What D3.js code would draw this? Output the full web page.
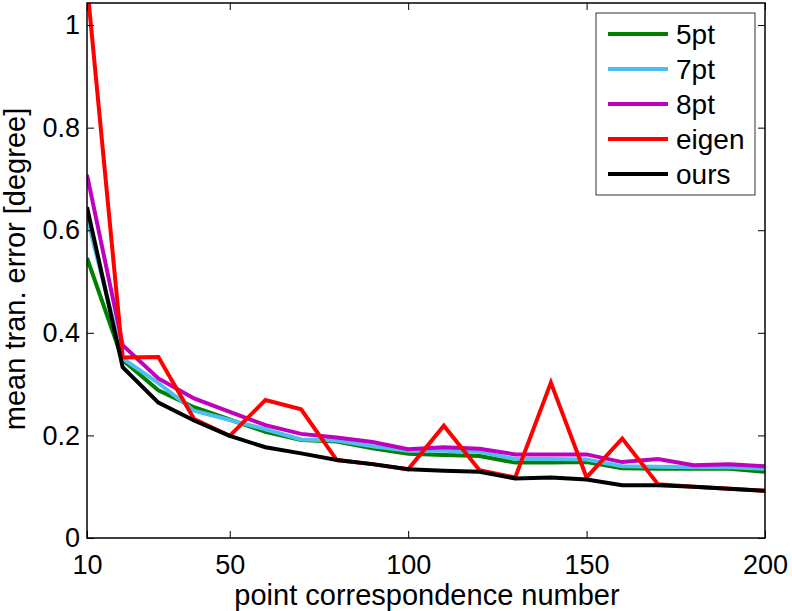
<!DOCTYPE html>
<html>
<head>
<meta charset="utf-8">
<script src="https://cdn.jsdelivr.net/npm/d3@7"></script>
<style>
  body { margin: 0; background: #fff; }
  text { font-family: "Liberation Sans", Arial, sans-serif; fill: #000; }
</style>
</head>
<body>
<svg id="chart" width="792" height="611"></svg>
<script>
// data
var pointCounts = [10, 20, 30, 40, 50, 60, 70, 80, 90, 100, 110, 120, 130, 140, 150, 160, 170, 180, 190, 200];
var err5pt  = [0.546, 0.347, 0.288, 0.255, 0.231, 0.207, 0.191, 0.188, 0.175, 0.164, 0.162, 0.160, 0.147, 0.147, 0.148, 0.136, 0.135, 0.135, 0.135, 0.129];
var err7pt  = [0.625, 0.350, 0.302, 0.248, 0.230, 0.212, 0.192, 0.190, 0.179, 0.170, 0.170, 0.168, 0.154, 0.154, 0.153, 0.140, 0.139, 0.138, 0.138, 0.135];
var err8pt  = [0.708, 0.376, 0.311, 0.272, 0.246, 0.220, 0.203, 0.196, 0.187, 0.173, 0.177, 0.174, 0.163, 0.163, 0.163, 0.148, 0.154, 0.142, 0.144, 0.140];
var errEigen = [1.08, 0.352, 0.353, 0.232, 0.199, 0.269, 0.251, 0.152, 0.144, 0.134, 0.219, 0.132, 0.118, 0.303, 0.118, 0.194, 0.105, 0.100, 0.096, 0.092];
var errOurs = [0.645, 0.333, 0.264, 0.229, 0.199, 0.177, 0.165, 0.152, 0.144, 0.134, 0.131, 0.129, 0.116, 0.118, 0.114, 0.103, 0.103, 0.100, 0.096, 0.092];

var seriesNames = ['5pt', '7pt', '8pt', 'eigen', 'ours'];
var seriesColors = ['#008000', '#4dbeee', '#bf00bf', '#ff0000', '#000000'];
var seriesValues = [err5pt, err7pt, err8pt, errEigen, errOurs];

var xTicks = [10, 50, 100, 150, 200];
var yTicks = [0, 0.2, 0.4, 0.6, 0.8, 1];

var margin = {top: 3, right: 27, bottom: 73, left: 87},
  w = 792 - margin.left - margin.right,
  h = 611 - margin.top - margin.bottom;

var svg = d3.select('#chart');
var g = svg.append('g').attr('transform', 'translate(' + margin.left + ',' + margin.top + ')');

var x = d3.scaleLinear().domain([10, 200]).range([0, w]);
var y = d3.scaleLinear().domain([0, 1.043]).range([h, 0]);

// clip so the eigen spike is cut at the top
g.append('clipPath').attr('id', 'clip')
  .append('rect').attr('width', w).attr('height', h);

var line = d3.line()
  .x(function(d, i) { return x(pointCounts[i]); })
  .y(function(d) { return y(d); });

var lines = g.append('g').attr('clip-path', 'url(#clip)');
seriesValues.forEach(function(vals, k) {
  lines.append('path')
    .datum(vals)
    .attr('d', line)
    .attr('fill', 'none')
    .attr('stroke', seriesColors[k])
    .attr('stroke-width', 4)
    .attr('stroke-linejoin', 'miter');
});

// axes, ticks pointing in (matlab style)
var tickLen = 7;
var xAxis = g.append('g').attr('transform', 'translate(0,' + h + ')')
  .call(d3.axisBottom(x).tickValues(xTicks).tickSizeInner(-tickLen).tickSizeOuter(0).tickPadding(17));
var yAxis = g.append('g')
  .call(d3.axisLeft(y).tickValues(yTicks).tickFormat(d3.format('')).tickSizeInner(-tickLen).tickSizeOuter(0).tickPadding(7));
g.append('g')
  .call(d3.axisTop(x).tickValues(xTicks).tickSizeInner(-tickLen).tickSizeOuter(0).tickFormat(''));
g.append('g').attr('transform', 'translate(' + w + ',0)')
  .call(d3.axisRight(y).tickValues(yTicks).tickSizeInner(-tickLen).tickSizeOuter(0).tickFormat(''));

g.selectAll('.domain').remove();
g.selectAll('.tick line').attr('stroke', '#000').attr('stroke-width', 1);
g.selectAll('.tick text').style('font-size', '27px').attr('font-family', '"Liberation Sans", Arial, sans-serif');
xAxis.selectAll('.tick text').attr('dy', '0.71em');

g.append('rect')
  .attr('width', w).attr('height', h)
  .attr('fill', 'none').attr('stroke', '#000').attr('stroke-width', 1.5);

// axis labels
svg.append('text')
  .attr('x', 427)
  .attr('y', 605)
  .attr('text-anchor', 'middle')
  .style('font-size', '29px')
  .text('point correspondence number');

svg.append('text')
  .attr('transform', 'translate(25,269) rotate(-90)')
  .attr('text-anchor', 'middle')
  .style('font-size', '29px')
  .text('mean tran. error [degree]');

// legend
var legend = svg.append('g').attr('transform', 'translate(596,13)');
legend.append('rect')
  .attr('width', 159).attr('height', 182)
  .attr('fill', '#fff').attr('stroke', '#333').attr('stroke-width', 1);

seriesNames.forEach(function(name, k) {
  var yy = 21 + k * 35;
  legend.append('line')
    .attr('x1', 12).attr('x2', 72)
    .attr('y1', yy).attr('y2', yy)
    .attr('stroke', seriesColors[k]).attr('stroke-width', 4);
  legend.append('text')
    .attr('x', 80).attr('y', yy)
    .attr('dy', '0.35em')
    .style('font-size', '28px')
    .text(name);
});
</script>
</body>
</html>
